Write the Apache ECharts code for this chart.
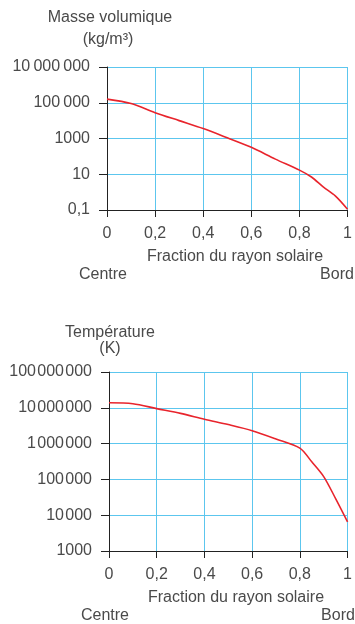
<!DOCTYPE html>
<html>
<head>
    <meta charset="utf-8">
    <script type="text/javascript" src="https://cdn.jsdelivr.net/npm/echarts@6/dist/echarts.min.js"></script>
    <title>Soleil</title>
    <style>
        body { margin: 0; background: #fff; }
    </style>
</head>
<body>
    <div id="container" style="width:355px;height:624px;"></div>
    <script type="text/javascript">
    // fraction du rayon solaire
    var radius = [0, 0.1, 0.2, 0.3, 0.4, 0.5, 0.6, 0.7, 0.8, 0.85, 0.9, 0.95, 1];
    // masse volumique (kg/m3)
    var density = [1.6e5, 9e4, 2.8e4, 1e4, 3.6e3, 1.1e3, 320, 70, 17, 7, 1.9, 0.6, 0.11];
    // température (K)
    var temperature = [1.38e7, 1.3e7, 9.5e6, 7e6, 4.8e6, 3.4e6, 2.3e6, 1.35e6, 7.5e5, 3.1e5, 1.2e5, 2.9e4, 6.5e3];
    // graduations
    var xTicks = [0, 0.2, 0.4, 0.6, 0.8, 1];
    var densityTicks = [0.1, 10, 1000, 100000, 10000000];
    var tempTicks = [1000, 10000, 100000, 1000000, 10000000, 100000000];

    var font = 'Liberation Sans, Arial, sans-serif';
    var textColor = '#4a4a4a';
    var gridColor = '#5cc6ee';
    var red = '#e8242c';

    // écriture française des nombres
    function fmt(v, sep) {
        if (v < 1) return String(v).replace('.', ',');
        var s = String(Math.round(v));
        if (s.length <= 4) return s;
        return s.replace(/\B(?=(\d{3})+(?!\d))/g, sep);
    }

    // axe 1 : log10 décalé pour que min soit un multiple de l'intervalle
    var dMin = Math.log10(densityTicks[0]);
    var densityData = radius.map(function (r, i) {
        return [r, Math.log10(density[i]) - dMin];
    });
    var tempData = radius.map(function (r, i) {
        return [r, temperature[i]];
    });

    var myChart = echarts.init(document.getElementById('container'));

    function xAxisOf(idx) {
        return {
            type: 'value',
            gridIndex: idx,
            min: xTicks[0],
            max: xTicks[xTicks.length - 1],
            interval: 0.2,
            axisLine: { lineStyle: { color: '#222', width: 1 } },
            axisTick: { show: true, length: 7, lineStyle: { color: '#222' } },
            splitLine: { show: true, lineStyle: { color: gridColor, width: 1 } },
            axisLabel: {
                color: textColor, fontSize: 16, fontFamily: font, margin: 16,
                showMaxLabel: true,
                formatter: function (v) { return fmt(v, '\u2009'); }
            }
        };
    }

    var texts = [
        ['Masse volumique', 110, 18],
        ['(kg/m³)', 108, 40],
        ['Fraction du rayon solaire', 235, 257],
        ['Centre', 103, 275],
        ['Bord', 337, 275],
        ['Température', 110, 333],
        ['(K)', 110, 349],
        ['Fraction du rayon solaire', 236, 598],
        ['Centre', 105, 616],
        ['Bord', 338, 616]
    ];

    var option = {
        animation: false,
        grid: [
            { left: 107, right: 3, top: 67, height: 143 },
            { left: 109, right: 1, top: 372, height: 179 }
        ],
        xAxis: [xAxisOf(0), xAxisOf(1)],
        yAxis: [{
            type: 'value',
            gridIndex: 0,
            min: 0,
            max: Math.log10(densityTicks[densityTicks.length - 1]) - dMin,
            interval: 2,
            axisLine: { show: true, lineStyle: { color: '#222', width: 1 } },
            axisTick: { show: true, length: 8, lineStyle: { color: '#222' } },
            splitLine: { show: true, lineStyle: { color: gridColor, width: 1 } },
            axisLabel: {
                color: textColor, fontSize: 16, fontFamily: font, margin: 17,
                formatter: function (v) {
                    var val = Math.pow(10, v + dMin);
                    val = Math.abs(val - 0.1) < 1e-9 ? 0.1 : Math.round(val);
                    return fmt(val, '\u2009');
                }
            }
        }, {
            type: 'log',
            logBase: 10,
            gridIndex: 1,
            min: tempTicks[0],
            max: tempTicks[tempTicks.length - 1],
            axisLine: { show: true, lineStyle: { color: '#222', width: 1 } },
            axisTick: { show: true, length: 8, lineStyle: { color: '#222' } },
            splitLine: { show: true, lineStyle: { color: gridColor, width: 1 } },
            minorTick: { show: false },
            axisLabel: {
                color: textColor, fontSize: 16, fontFamily: font, margin: 17,
                formatter: function (v) { return fmt(v, '\u200A'); }
            }
        }],
        series: [{
            type: 'line',
            xAxisIndex: 0,
            yAxisIndex: 0,
            data: densityData,
            smooth: 0.3,
            showSymbol: false,
            lineStyle: { color: red, width: 1.6 }
        }, {
            type: 'line',
            xAxisIndex: 1,
            yAxisIndex: 1,
            data: tempData,
            smooth: 0.3,
            showSymbol: false,
            lineStyle: { color: red, width: 1.6 }
        }],
        graphic: texts.map(function (t) {
            return {
                type: 'text',
                x: t[1],
                y: t[2],
                style: {
                    text: t[0],
                    fill: textColor,
                    font: '16px ' + font,
                    textAlign: 'center',
                    textVerticalAlign: 'middle'
                }
            };
        })
    };

    myChart.setOption(option);
    </script>
</body>
</html>
